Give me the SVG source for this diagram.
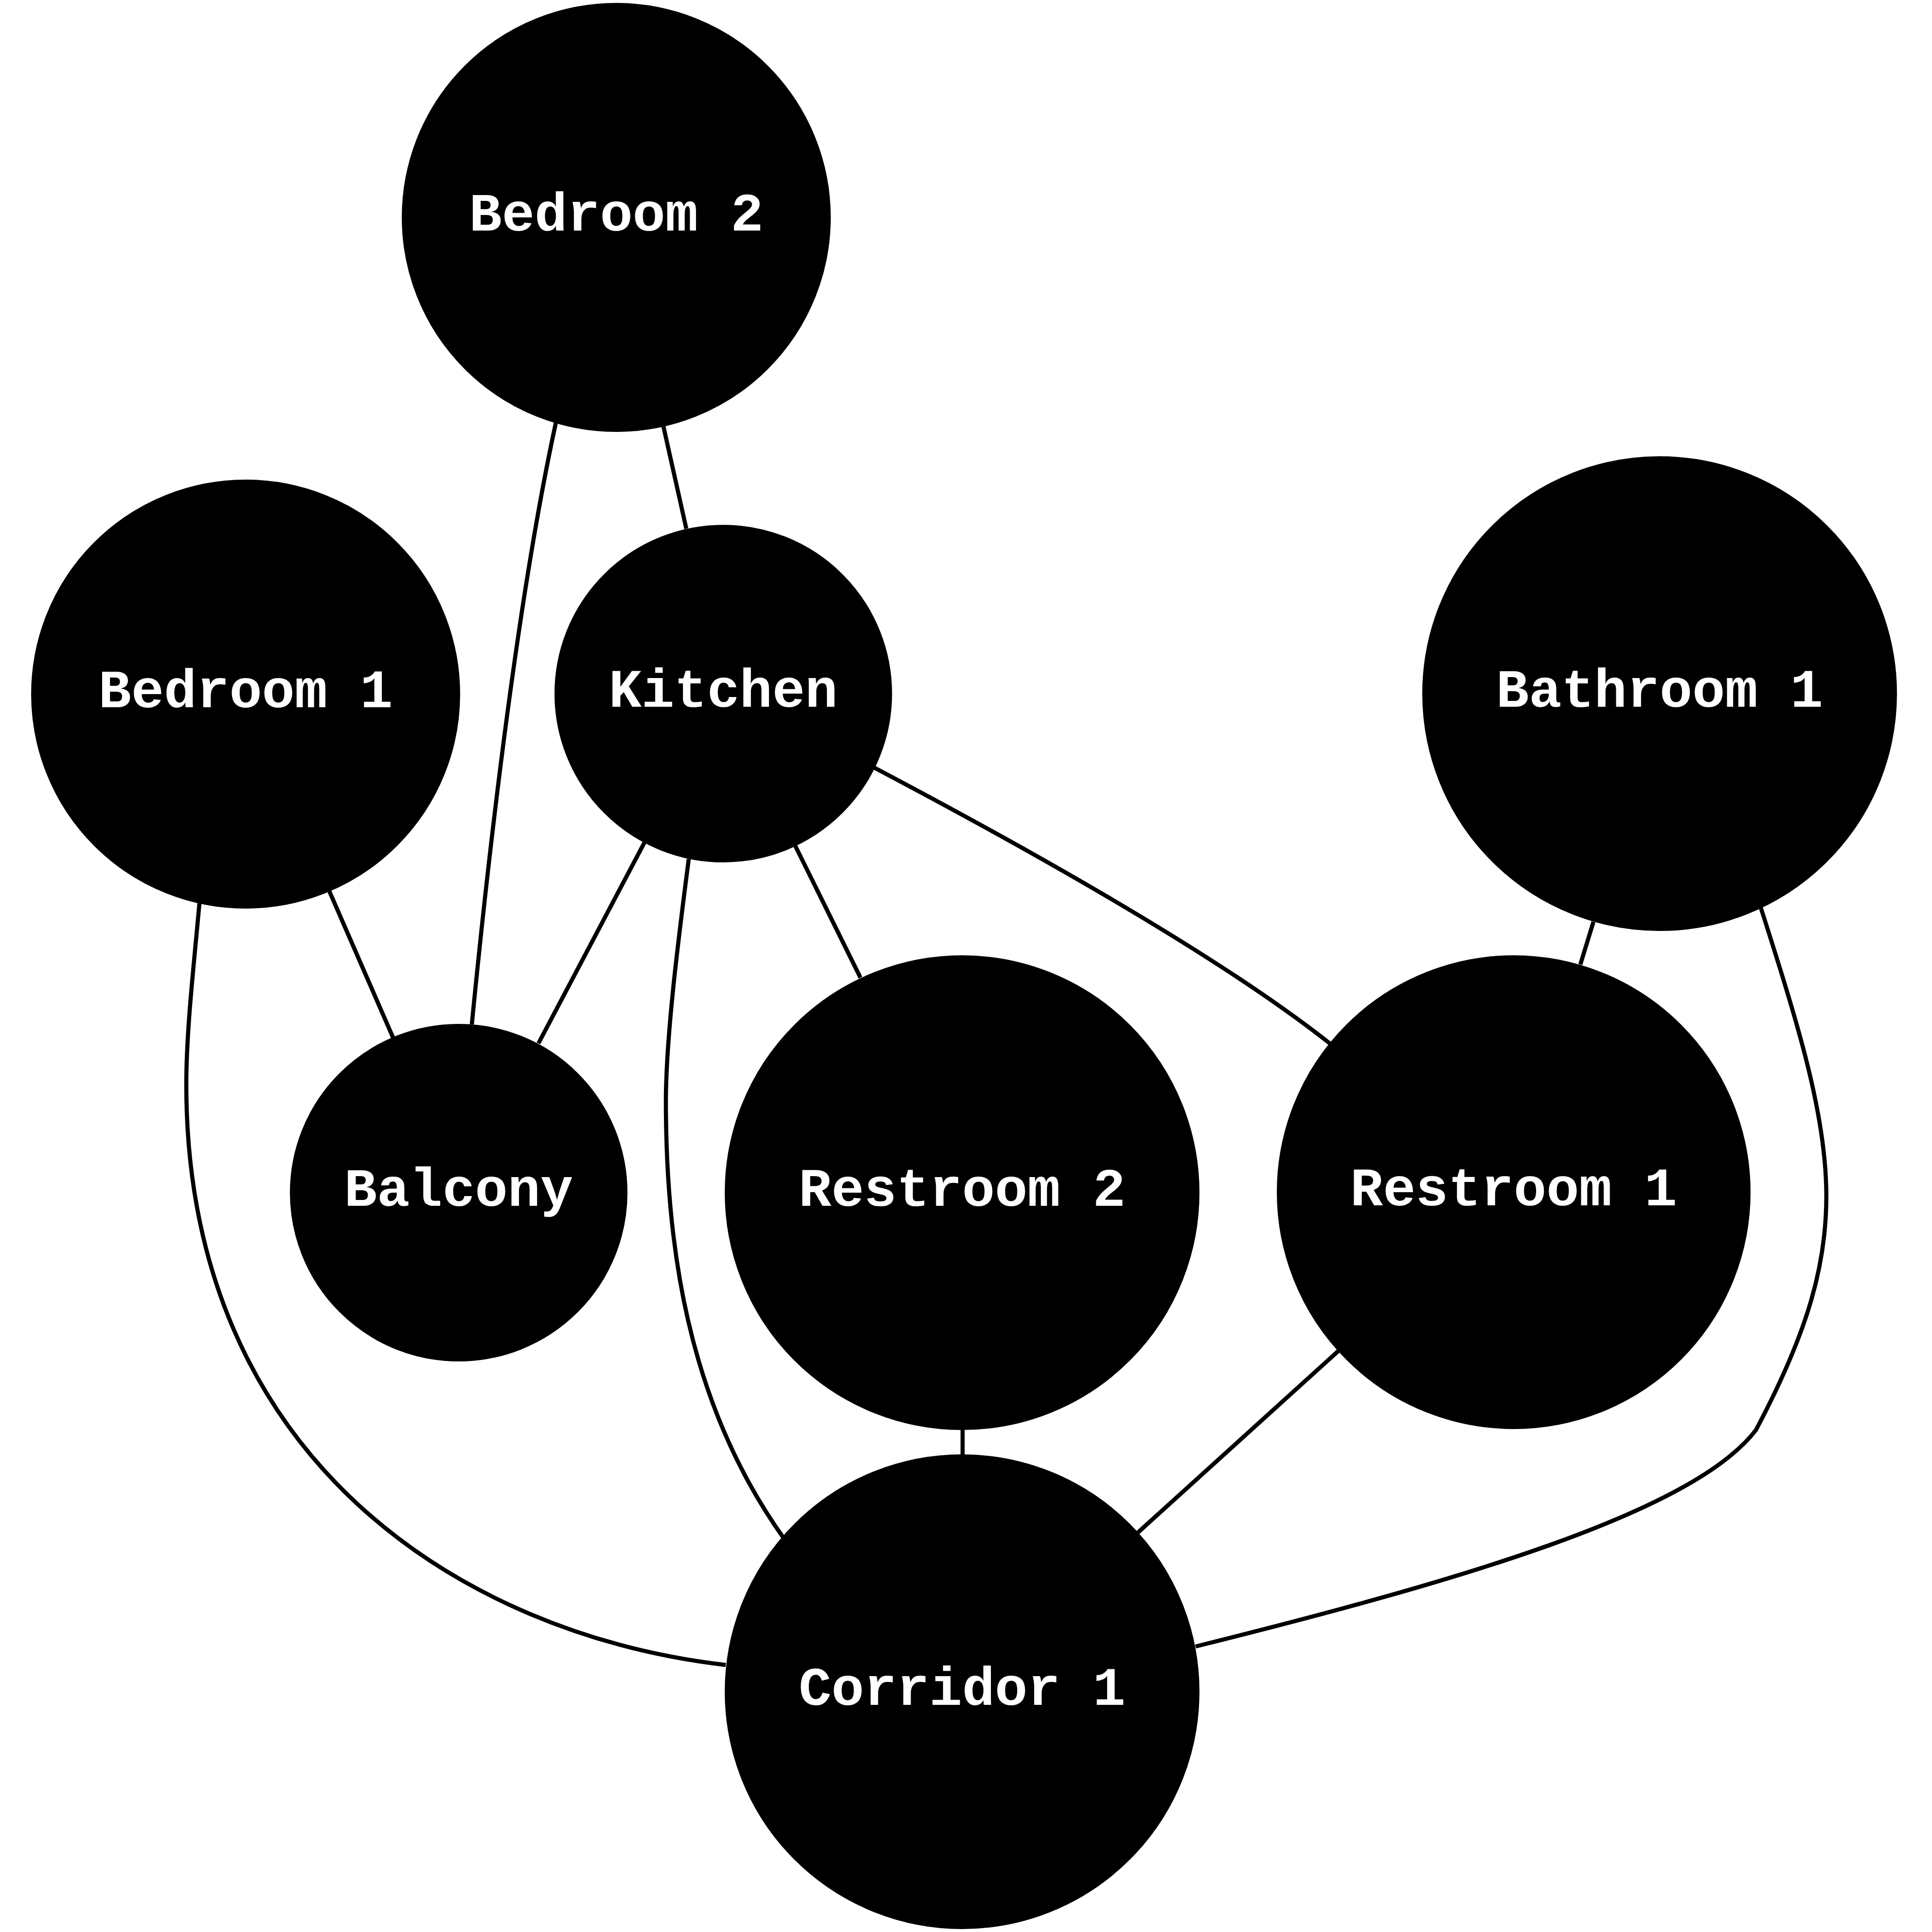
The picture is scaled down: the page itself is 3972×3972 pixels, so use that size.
<svg xmlns="http://www.w3.org/2000/svg" width="3972" height="3972" viewBox="0 0 3972 3972">
<style>
.edge{fill:none;stroke:#000;stroke-width:8.5}
.node circle{fill:#000;stroke:#000;stroke-width:2}
.node text{fill:#fff;font-family:"Liberation Mono","Courier New",monospace;font-weight:bold;font-size:112px;text-anchor:middle}
</style>
<rect width="3972" height="3972" fill="#fff"/>
<g id="edges">
<path class="edge" d="M1364,877 L1411,1087"/>
<path class="edge" d="M1143,868 C1060,1250 1000,1800 970,2106"/>
<path class="edge" d="M677,1832 L808,2133"/>
<path class="edge" d="M1325,1732 L1107,2145"/>
<path class="edge" d="M1635,1739 L1769,2010"/>
<path class="edge" d="M1797,1578 C2100,1738 2500,1960 2735,2146"/>
<path class="edge" d="M1416,1766 C1396,1920 1369,2130 1369,2265 C1369,2550 1410,2880 1611,3162"/>
<path class="edge" d="M410,1857 C398,1990 383,2120 383,2230 C383,3000 950,3360 1492,3423"/>
<path class="edge" d="M3276,1895 L3249,1983"/>
<path class="edge" d="M3620,1866 C3780,2366 3822,2540 3610,2940 C3480,3110 3000,3250 2458,3385"/>
<path class="edge" d="M1979,2940 L1979,2992"/>
<path class="edge" d="M2752,2777 L2338,3152"/>
</g>
<g id="node-bedroom2" class="node"><circle cx="1267" cy="447" r="440"/><text x="1267" y="474">Bedroom 2</text></g>
<g id="node-bedroom1" class="node"><circle cx="505" cy="1427" r="440"/><text x="505" y="1454">Bedroom 1</text></g>
<g id="node-kitchen" class="node"><circle cx="1487" cy="1426" r="346"/><text x="1487" y="1453">Kitchen</text></g>
<g id="node-bathroom1" class="node"><circle cx="3412" cy="1426" r="487"/><text x="3412" y="1453">Bathroom 1</text></g>
<g id="node-balcony" class="node"><circle cx="943" cy="2452" r="346"/><text x="943" y="2479">Balcony</text></g>
<g id="node-restroom2" class="node"><circle cx="1978" cy="2452" r="487"/><text x="1978" y="2479">Restroom 2</text></g>
<g id="node-restroom1" class="node"><circle cx="3112" cy="2451" r="486"/><text x="3112" y="2478">Restroom 1</text></g>
<g id="node-corridor1" class="node"><circle cx="1978" cy="3478" r="487"/><text x="1978" y="3505">Corridor 1</text></g>
</svg>
